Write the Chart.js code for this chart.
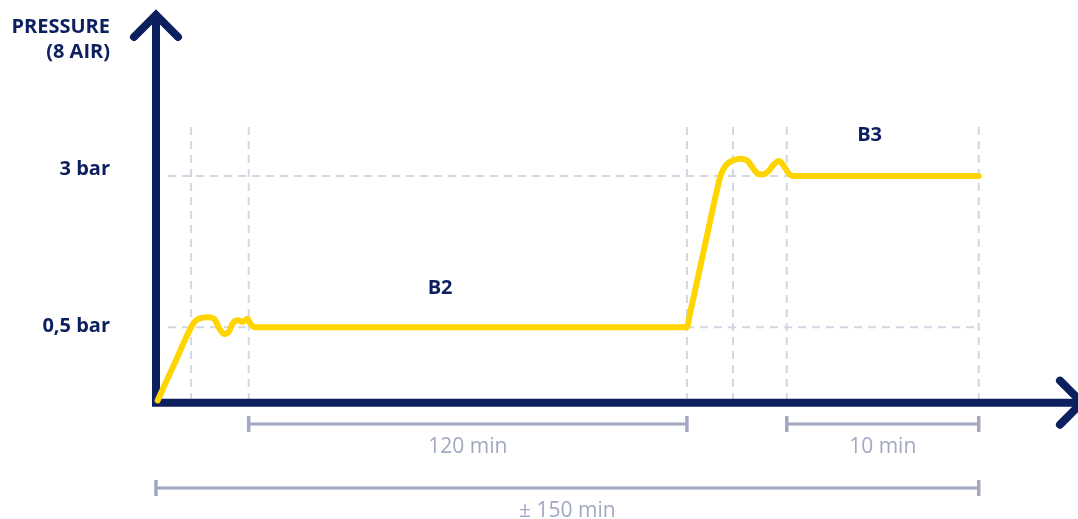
<!DOCTYPE html>
<html>
<head>
<meta charset="utf-8">
<script src="https://cdn.jsdelivr.net/npm/chart.js@4.4.1/dist/chart.umd.min.js"></script>
<style>
  html, body { margin: 0; padding: 0; background: #fff; }
  #wrap { position: relative; width: 1078px; height: 519px; }
</style>
</head>
<body>
<div id="wrap"><canvas id="pressureChart"></canvas></div>
<script>
// Curve: x in drawing units (0 = origin, 150 = end of cycle),
// y in pressure levels (1 = 0,5 bar, 3 = 3 bar)
const timeSteps = [0.3, 3.5, 6.0, 6.9, 7.8, 9.5, 10.6, 11.5, 12.4, 13.3, 14.0, 14.9, 15.9, 16.6, 17.1, 17.9,
  96.8, 97.3, 99.8, 102.3, 103.0, 104.0, 105.3, 106.6, 107.9, 108.8, 109.7, 110.6, 111.6, 112.7, 113.6, 114.5, 115.4, 116.5, 150];
const pressureLevels = [0.03, 0.54, 0.94, 1.06, 1.11, 1.13, 1.11, 0.99, 0.91, 0.94, 1.05, 1.09, 1.07, 1.11, 1.06, 1.0,
  1.0, 1.16, 1.99, 2.82, 3.02, 3.15, 3.21, 3.23, 3.2, 3.11, 3.03, 3.02, 3.06, 3.16, 3.2, 3.13, 3.03, 3.0, 3.0];

// Y tick levels and their labels
const yTickLevels = [1, 3];
const yTickLabels = ['0,5 bar', '3 bar'];

// Vertical dashed phase markers
const phaseMarks = [6.4, 16.9, 96.8, 105.2, 115, 150];

// Phase labels
const phaseNames = ['B2', 'B3'];
const phaseNameX = [51.8, 130.1];
const phaseNameY = [1.52, 3.54];

// Duration brackets
const spanStarts = [16.9, 115, 0];
const spanEnds = [96.8, 150, 150];
const spanLabels = ['120 min', '10 min', '\u00b1 150 min'];

const NAVY = '#0c1f5e';
const YELLOW = '#ffd500';
const GRID = '#d4d7e3';
const SPAN = '#a3a8c2';

// Draws axes, dashed guides, labels and brackets using the chart scales
const decorPlugin = {
  id: 'decor',
  beforeDatasetsDraw(chart) {
    const ctx = chart.ctx;
    const xs = chart.scales.x;
    const ys = chart.scales.y;
    const ox = xs.getPixelForValue(0);
    const oy = ys.getPixelForValue(0);

    ctx.save();
    // dashed guides
    ctx.strokeStyle = GRID;
    ctx.lineWidth = 2;
    ctx.setLineDash([8, 6]);
    phaseMarks.forEach(v => {
      const px = xs.getPixelForValue(v);
      ctx.beginPath();
      ctx.moveTo(px, ys.getPixelForValue(3.65));
      ctx.lineTo(px, oy - 4);
      ctx.stroke();
    });
    yTickLevels.forEach(v => {
      const py = ys.getPixelForValue(v);
      ctx.beginPath();
      ctx.moveTo(ox + 12, py);
      ctx.lineTo(xs.getPixelForValue(150), py);
      ctx.stroke();
    });
    ctx.setLineDash([]);

    // axes
    ctx.strokeStyle = NAVY;
    ctx.lineWidth = 8;
    ctx.lineCap = 'butt';
    ctx.lineJoin = 'miter';
    ctx.beginPath();
    ctx.moveTo(ox, 14);
    ctx.lineTo(ox, oy);
    ctx.lineTo(1082, oy);
    ctx.stroke();
    ctx.lineCap = 'round';
    ctx.beginPath();
    ctx.moveTo(ox - 22, 37);
    ctx.lineTo(ox, 15);
    ctx.lineTo(ox + 22, 37);
    ctx.stroke();
    ctx.beginPath();
    ctx.moveTo(1060, oy - 22);
    ctx.lineTo(1082, oy);
    ctx.lineTo(1060, oy + 22);
    ctx.stroke();

    // axis title and tick labels
    ctx.fillStyle = NAVY;
    ctx.font = 'bold 20px "Open Sans"';
    ctx.textAlign = 'right';
    ctx.textBaseline = 'alphabetic';
    ctx.fillText('PRESSURE', 110, 33);
    ctx.fillText('(8 AIR)', 110, 58);
    ctx.textBaseline = 'middle';
    yTickLevels.forEach((v, i) => {
      const off = v === 3 ? -7 : -1;
      ctx.fillText(yTickLabels[i], 110, ys.getPixelForValue(v) + off);
    });
    ctx.textAlign = 'center';
    phaseNames.forEach((n, i) => {
      ctx.fillText(n, xs.getPixelForValue(phaseNameX[i]), ys.getPixelForValue(phaseNameY[i]));
    });

    // duration brackets
    const rows = [424, 424, 488];
    ctx.strokeStyle = SPAN;
    ctx.fillStyle = SPAN;
    ctx.lineCap = 'butt';
    ctx.font = '21px "Open Sans"';
    spanLabels.forEach((lab, i) => {
      const x1 = xs.getPixelForValue(spanStarts[i]);
      const x2 = xs.getPixelForValue(spanEnds[i]);
      const y = rows[i];
      ctx.lineWidth = 3;
      ctx.beginPath();
      ctx.moveTo(x1, y);
      ctx.lineTo(x2, y);
      ctx.stroke();
      ctx.lineWidth = 3.5;
      ctx.beginPath();
      ctx.moveTo(x1, y - 8);
      ctx.lineTo(x1, y + 8);
      ctx.moveTo(x2, y - 8);
      ctx.lineTo(x2, y + 8);
      ctx.stroke();
      ctx.fillText(lab, (x1 + x2) / 2, y + 23);
    });
    ctx.restore();
  }
};

const ctx = document.getElementById('pressureChart').getContext('2d');
new Chart(ctx, {
  type: 'line',
  data: {
    datasets: [{
      data: timeSteps.map((t, i) => ({ x: t, y: pressureLevels[i] })),
      borderColor: YELLOW,
      borderWidth: 6,
      borderCapStyle: 'round',
      borderJoinStyle: 'round',
      cubicInterpolationMode: 'monotone',
      pointRadius: 0,
      fill: false,
      clip: false
    }]
  },
  options: {
    responsive: true,
    maintainAspectRatio: false,
    animation: false,
    layout: { padding: { left: 156, right: 17, top: 25, bottom: 3 } },
    plugins: { legend: { display: false }, tooltip: { enabled: false } },
    scales: {
      x: { type: 'linear', min: 0, max: 165, display: false },
      y: { type: 'linear', min: -1.5, max: 5, display: false }
    }
  },
  plugins: [decorPlugin]
});
</script>
</body>
</html>
